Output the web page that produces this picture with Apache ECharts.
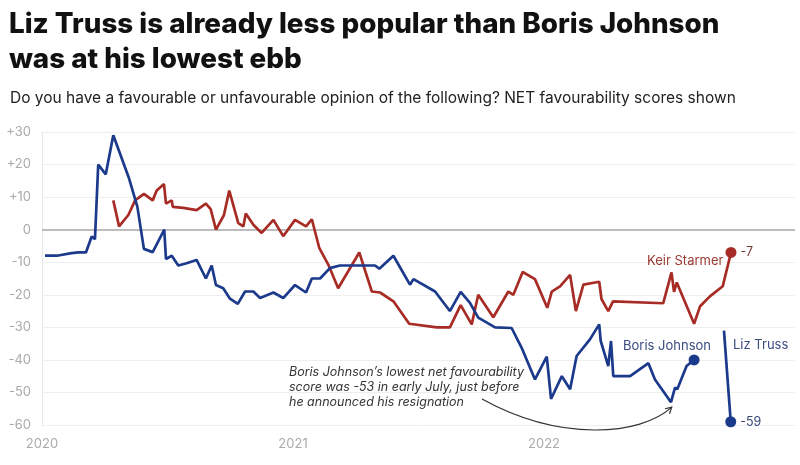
<!DOCTYPE html>
<html>
<head>
<meta charset="utf-8">
<script src="https://cdn.jsdelivr.net/npm/echarts@6/dist/echarts.min.js"></script>
<style>
html,body{margin:0;padding:0;background:#fff;}
#c{width:800px;height:465px;}
</style>
</head>
<body>
<div id="c"></div>
<script>
// Decimal-year positions and net favourability values
var johnsonX = [2020.012,2020.059,2020.118,2020.145,2020.175,2020.198,2020.211,2020.224,2020.254,2020.284,2020.347,2020.380,2020.406,2020.441,2020.459,2020.487,2020.494,2020.517,2020.543,2020.576,2020.616,2020.653,2020.676,2020.693,2020.722,2020.749,2020.780,2020.809,2020.842,2020.869,2020.922,2020.961,2021.008,2021.052,2021.075,2021.108,2021.147,2021.187,2021.327,2021.344,2021.400,2021.466,2021.480,2021.566,2021.625,2021.668,2021.705,2021.738,2021.805,2021.871,2021.911,2021.964,2022.011,2022.028,2022.071,2022.104,2022.130,2022.183,2022.220,2022.226,2022.256,2022.267,2022.276,2022.343,2022.416,2022.442,2022.506,2022.522,2022.531,2022.568,2022.598];
var johnsonY = [-8,-8,-7.2,-7,-7,-2.1,-2.9,20,17,29,15.7,7,-5.9,-6.9,-4.2,0,-9,-8,-11,-10.3,-9.3,-15,-11,-17,-18,-21.2,-22.8,-19,-19,-21,-19.3,-21,-17,-19.3,-15,-15,-11.8,-11,-11,-12,-8,-16.9,-15.2,-19,-25,-19.1,-22.5,-27,-30,-30.2,-36.3,-46,-39,-52,-45,-49,-38.8,-33.7,-29.1,-34.2,-41.9,-34.2,-45,-45,-41,-46,-53,-48.5,-49,-41.9,-40];

var starmerX = [2020.284,2020.307,2020.344,2020.371,2020.406,2020.441,2020.457,2020.486,2020.494,2020.517,2020.521,2020.563,2020.616,2020.653,2020.672,2020.693,2020.725,2020.746,2020.782,2020.802,2020.812,2020.842,2020.875,2020.922,2020.961,2021.008,2021.052,2021.075,2021.105,2021.141,2021.180,2021.264,2021.314,2021.347,2021.400,2021.463,2021.573,2021.625,2021.668,2021.712,2021.738,2021.798,2021.858,2021.878,2021.915,2021.964,2022.013,2022.031,2022.064,2022.104,2022.127,2022.157,2022.220,2022.229,2022.256,2022.275,2022.475,2022.508,2022.518,2022.529,2022.598,2022.622,2022.661,2022.712,2022.745];
var starmerY = [9,1,4.5,9,11,9,12,14,8,9,7,6.7,6,8,6.3,0,4.5,12,2,1,5,1.5,-1,3,-2,3,1,3.2,-5.7,-10.8,-18,-7,-19,-19.3,-22,-28.9,-30,-30,-23.2,-29.1,-20,-26.9,-19,-20,-13,-15.2,-24,-19,-17.4,-13.9,-25,-16.9,-16,-21.3,-25,-22,-22.6,-13.1,-19.1,-16.2,-28.9,-23.5,-20.5,-17.4,-7];

var trussX = [2022.717,2022.744];
var trussY = [-31,-59];

var yTicks = [-60,-50,-40,-30,-20,-10,0,10,20,30];
var xTicks = [2020,2021,2022];

var names = ['Boris Johnson','Keir Starmer','Liz Truss'];
var BLUE = '#1c3a8c', RED = '#a82c26';

function pairs(xs, ys){ return xs.map(function(x,i){ return [x, ys[i]]; }); }
function last(xs, ys){ return [xs[xs.length-1], ys[ys.length-1]]; }

var chart = echarts.init(document.getElementById('c'), null, {renderer:'canvas'});
var font = 'Inter, "Noto Sans", sans-serif';

var option = {
  backgroundColor:'#fff',
  animation:false,
  title:[
    {text:'Liz Truss is already less popular than Boris Johnson\nwas at his lowest ebb', left:4, top:2,
     textStyle:{fontFamily:font, fontWeight:800, fontSize:27.8, lineHeight:35, color:'#111'}},
    {text:'Do you have a favourable or unfavourable opinion of the following? NET favourability scores shown', left:5, top:85,
     textStyle:{fontFamily:font, fontWeight:400, fontSize:15.5, color:'#222'}}
  ],
  grid:{left:42, right:5, top:132, bottom:40, containLabel:false},
  xAxis:{type:'value', min:2020, max:2023, interval:1,
    axisLine:{show:false}, axisTick:{show:false}, splitLine:{show:false},
    axisLabel:{color:'#aaa', fontFamily:font, fontSize:13, margin:13,
      formatter:function(v){ return xTicks.indexOf(v) >= 0 ? String(v) : ''; }}},
  yAxis:{type:'value', min:yTicks[0], max:yTicks[yTicks.length-1], interval:10,
    axisLine:{show:true, lineStyle:{color:'#e8e8e8', width:1}}, axisTick:{show:false},
    splitLine:{show:true, lineStyle:{color:'#eeeeee', width:1}},
    axisLabel:{color:'#aaa', fontFamily:font, fontSize:13, margin:11,
      formatter:function(v){ return v > 0 ? '+' + v : String(v); }}},
  series:[
    {name:names[0], type:'line', data:pairs(johnsonX, johnsonY), showSymbol:false, symbol:'none',
     lineStyle:{color:BLUE, width:2.7}, z:3},
    {name:names[1], type:'line', data:pairs(starmerX, starmerY), showSymbol:false, symbol:'none',
     lineStyle:{color:RED, width:2.7}, z:2,
     markLine:{silent:true, symbol:'none', label:{show:false}, data:[{yAxis:0}],
       lineStyle:{color:'#aaaaaa', width:1.5, type:'solid'}, z:1}},
    {name:names[2], type:'line', data:pairs(trussX, trussY), showSymbol:false, symbol:'none',
     lineStyle:{color:BLUE, width:2.7}, z:3},
    {type:'scatter', symbol:'circle', symbolSize:11, z:4,
     data:[
       {value:last(johnsonX, johnsonY), itemStyle:{color:BLUE, opacity:1}, label:{show:false}},
       {value:last(starmerX, starmerY), itemStyle:{color:RED, opacity:1},
        label:{show:true, position:'right', distance:4, formatter:function(p){return String(p.value[1]);}, color:'#7a3a36', fontFamily:font, fontSize:12.5}},
       {value:last(trussX, trussY), itemStyle:{color:BLUE, opacity:1},
        label:{show:true, position:'right', distance:4, formatter:function(p){return String(p.value[1]);}, color:'#3a4a78', fontFamily:font, fontSize:12.5}}
     ]}
  ]
};
chart.setOption(option);

// annotations placed relative to data coordinates
function px(x, y){ return chart.convertToPixel({gridIndex:0}, [x, y]); }
var tip = px(johnsonX[66] + 0.003, johnsonY[66] - 1.5);
var start = [482, 399];
var c1 = [560, 442], c2 = [640, 436];
var dx = tip[0]-c2[0], dy = tip[1]-c2[1], L = Math.sqrt(dx*dx+dy*dy); dx/=L; dy/=L;
function rot(a){ var c=Math.cos(a), s=Math.sin(a); return [tip[0] - 7*(dx*c - dy*s), tip[1] - 7*(dx*s + dy*c)]; }
var a1 = rot(0.5), a2 = rot(-0.5);

chart.setOption({graphic:[
  {type:'text', x:289, y:365, style:{text:'Boris Johnson\u2019s lowest net favourability\nscore was -53 in early July, just before\nhe announced his resignation',
    font:'italic 12.5px ' + font, fill:'#333', lineHeight:15}},
  {type:'bezierCurve', shape:{x1:start[0], y1:start[1], cpx1:c1[0], cpy1:c1[1], cpx2:c2[0], cpy2:c2[1], x2:tip[0], y2:tip[1]},
    style:{stroke:'#333', lineWidth:1.2, fill:null}},
  {type:'polyline', shape:{points:[a1, tip, a2]}, style:{stroke:'#333', lineWidth:1.2, fill:null}},
  {type:'text', x:647, y:255, style:{text:names[1], font:'13px ' + font, fill:'#9c3a33'}},
  {type:'text', x:623, y:340, style:{text:names[0], font:'13px ' + font, fill:'#3a4b80'}},
  {type:'text', x:733, y:339, style:{text:names[2], font:'13px ' + font, fill:'#3a4b80'}}
]});
</script>
</body>
</html>
